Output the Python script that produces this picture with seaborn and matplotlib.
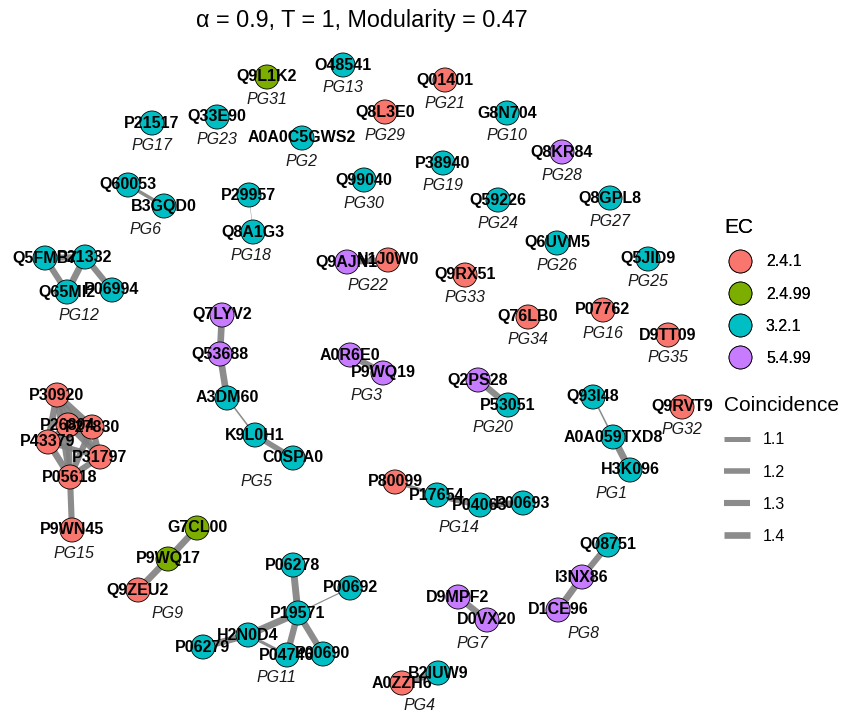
import matplotlib
matplotlib.use("Agg")
import matplotlib.pyplot as plt
from matplotlib.lines import Line2D
from matplotlib.collections import LineCollection
import numpy as np
import pandas as pd
import seaborn as sns

# nodos: id, grupo, EC, posicion del layout (x, y hacia abajo)
node_id = ["Q93I48", "A0A059TXD8", "H3K096", "A0A0C5GWS2", "A0R6E0", "P9WQ19", "A0ZZH6", "B2IUW9",
           "Q7LYV2", "Q53688", "A3DM60", "K9L0H1", "C0SPA0", "Q60053", "B3GQD0", "D9MPF2", "D0VX20",
           "Q08751", "I3NX86", "D1CE96", "G7CL00", "P9WQ17", "Q9ZEU2", "G8N704",
           "P06278", "P00692", "P19571", "H2N0D4", "P06279", "P04746", "P00690",
           "Q5FMB7", "P21332", "Q65MI2", "P06994", "O48541", "P80099", "P17654", "P04063", "P00693",
           "P30920", "P26804", "P27830", "P43379", "P31797", "P05618", "P9WN45",
           "P07762", "P21517", "P29957", "Q8A1G3", "P38940", "Q2PS28", "P53051", "Q01401",
           "Q9AJN1", "N1J0W0", "Q33E90", "Q59226", "Q5JID9", "Q6UVM5", "Q8GPL8", "Q8KR84",
           "Q8L3E0", "Q99040", "Q9L1K2", "Q9RVT9", "Q9RX51", "Q76LB0", "D9TT09"]
node_group = ["PG1", "PG1", "PG1", "PG2", "PG3", "PG3", "PG4", "PG4",
              "PG5", "PG5", "PG5", "PG5", "PG5", "PG6", "PG6", "PG7", "PG7",
              "PG8", "PG8", "PG8", "PG9", "PG9", "PG9", "PG10",
              "PG11", "PG11", "PG11", "PG11", "PG11", "PG11", "PG11",
              "PG12", "PG12", "PG12", "PG12", "PG13", "PG14", "PG14", "PG14", "PG14",
              "PG15", "PG15", "PG15", "PG15", "PG15", "PG15", "PG15",
              "PG16", "PG17", "PG18", "PG18", "PG19", "PG20", "PG20", "PG21",
              "PG22", "PG22", "PG23", "PG24", "PG25", "PG26", "PG27", "PG28",
              "PG29", "PG30", "PG31", "PG32", "PG33", "PG34", "PG35"]
node_ec = ["3.2.1", "3.2.1", "3.2.1", "3.2.1", "5.4.99", "5.4.99", "2.4.1", "3.2.1",
           "5.4.99", "5.4.99", "3.2.1", "3.2.1", "3.2.1", "3.2.1", "3.2.1", "5.4.99", "5.4.99",
           "3.2.1", "5.4.99", "5.4.99", "2.4.99", "2.4.99", "2.4.1", "3.2.1",
           "3.2.1", "3.2.1", "3.2.1", "3.2.1", "3.2.1", "3.2.1", "3.2.1",
           "3.2.1", "3.2.1", "3.2.1", "3.2.1", "3.2.1", "2.4.1", "3.2.1", "3.2.1", "3.2.1",
           "2.4.1", "2.4.1", "2.4.1", "2.4.1", "2.4.1", "2.4.1", "2.4.1",
           "2.4.1", "3.2.1", "3.2.1", "3.2.1", "3.2.1", "5.4.99", "3.2.1", "2.4.1",
           "5.4.99", "2.4.1", "3.2.1", "3.2.1", "3.2.1", "3.2.1", "3.2.1", "5.4.99",
           "2.4.1", "3.2.1", "2.4.99", "2.4.1", "2.4.1", "2.4.1", "2.4.1"]
node_x = [593, 613, 630, 302, 350, 383, 402, 438,
          222, 220, 227, 255, 293, 128, 164, 458, 487,
          608, 582, 558, 197, 168, 138, 507,
          293, 350, 298, 248, 203, 287, 323,
          45, 85, 67, 112, 343, 395, 437, 480, 523,
          57, 68, 92, 48, 100, 70, 72,
          603, 152, 249, 253, 443, 478, 508, 445,
          347, 388, 217, 498, 648, 557, 610, 562,
          385, 364, 267, 682, 465, 528, 668]
node_y = [397, 437, 470, 138, 355, 373, 683, 673,
          315, 354, 398, 435, 458, 185, 206, 597, 620,
          545, 577, 610, 528, 559, 590, 113,
          565, 588, 613, 635, 647, 655, 654,
          258, 257, 292, 290, 65, 482, 495, 505, 503,
          395, 425, 427, 442, 457, 477, 530,
          310, 123, 195, 232, 163, 380, 405, 80,
          262, 260, 117, 200, 259, 243, 198, 152,
          112, 180, 77, 407, 275, 317, 335]

# aristas: origen, destino, coincidencia
edge_from = ["Q93I48", "A0A059TXD8", "A0R6E0", "A0ZZH6", "Q7LYV2", "Q53688", "A3DM60", "K9L0H1",
             "Q60053", "D9MPF2", "Q08751", "I3NX86", "G7CL00", "P9WQ17",
             "P06278", "P19571", "P19571", "H2N0D4", "H2N0D4", "P19571", "P19571",
             "Q5FMB7", "Q5FMB7", "Q65MI2", "P21332", "P80099", "P17654", "P04063",
             "P30920", "P30920", "P30920", "P30920", "P30920", "P26804", "P26804", "P26804", "P26804",
             "P27830", "P27830", "P27830", "P43379", "P43379", "P31797", "P05618",
             "P29957", "Q2PS28", "Q9AJN1"]
edge_to = ["A0A059TXD8", "H3K096", "P9WQ19", "B2IUW9", "Q53688", "A3DM60", "K9L0H1", "C0SPA0",
           "B3GQD0", "D0VX20", "I3NX86", "D1CE96", "P9WQ17", "Q9ZEU2",
           "P19571", "P00692", "H2N0D4", "P06279", "P04746", "P04746", "P00690",
           "P21332", "Q65MI2", "P21332", "P06994", "P17654", "P04063", "P00693",
           "P26804", "P27830", "P43379", "P31797", "P05618", "P27830", "P43379", "P31797", "P05618",
           "P43379", "P31797", "P05618", "P31797", "P05618", "P05618", "P9WN45",
           "Q8A1G3", "P53051", "N1J0W0"]
edge_coincidence = [1.01, 1.45, 1.35, 1.3, 1.4, 1.4, 1.01, 1.2,
                    1.06, 1.35, 1.3, 1.4, 1.4, 1.4,
                    1.45, 1.0, 1.45, 1.4, 1.05, 1.35, 1.35,
                    1.3, 1.3, 1.4, 1.3, 1.06, 1.4, 1.3,
                    1.3, 1.4, 1.4, 1.2, 1.4, 1.3, 1.3, 1.2, 1.3,
                    1.2, 1.3, 1.3, 1.2, 1.4, 1.3, 1.3,
                    0.98, 1.35, 1.3]

ec_levels = ["2.4.1", "2.4.99", "3.2.1", "5.4.99"]
ec_colors = ["#F8766D", "#7CAE00", "#00BFC4", "#C77CFF"]
coincidence_breaks = [1.1, 1.2, 1.3, 1.4]


def edge_width(w):
    return float(np.interp(w, [0.98, 1.1, 1.5], [0.3, 3.6, 5.2]))


nodes = pd.DataFrame({"id": node_id, "grupo": node_group, "EC": node_ec, "x": node_x, "y": node_y})
edges = pd.DataFrame({"from": edge_from, "to": edge_to, "Coincidence": edge_coincidence})
pos = nodes.set_index("id")[["x", "y"]]

fig = plt.figure(figsize=(8.43, 7.13), dpi=100)
ax = fig.add_axes([0, 0, 1, 1])
plt.rcParams["font.family"] = ["Liberation Sans", "DejaVu Sans"]

segs = [[tuple(pos.loc[a]), tuple(pos.loc[b])] for a, b in zip(edges["from"], edges["to"])]
lc = LineCollection(segs, colors="#808080", linewidths=[edge_width(w) for w in edges["Coincidence"]],
                    alpha=0.9, capstyle="butt", zorder=1)
ax.add_collection(lc)

sns.scatterplot(data=nodes, x="x", y="y", hue="EC", hue_order=ec_levels, palette=ec_colors,
                s=300, edgecolor="black", linewidth=0.6, legend=False, ax=ax, zorder=2)

for _, r in nodes.iterrows():
    ax.text(r["x"], r["y"], r["id"], ha="center", va="center", fontsize=11.5,
            fontweight="bold", color="black", zorder=3)

# etiqueta de grupo: centro del rango x, debajo del nodo mas bajo
grupos = nodes.groupby("grupo").agg(xmin=("x", "min"), xmax=("x", "max"), ymax=("y", "max")).reset_index()
for _, g in grupos.iterrows():
    ax.text((g["xmin"] + g["xmax"]) / 2, g["ymax"] + 23, g["grupo"], ha="center", va="center",
            fontsize=11.5, fontstyle="italic", color="#1a1a1a", zorder=3)

ax.set_xlim(0, 843)
ax.set_ylim(713, 0)
ax.axis("off")

ax.text(362, 20, "α = 0.9, T = 1, Modularity = 0.47", ha="center", va="center", fontsize=16.8)

h_ec = [Line2D([], [], marker="o", ls="", markersize=16.5, markerfacecolor=c, markeredgecolor="black",
               markeredgewidth=0.6) for c in ec_colors]
leg1 = fig.legend(h_ec, ec_levels, title="EC", loc="upper left", bbox_to_anchor=(718 / 843, 1 - 212 / 713),
                  frameon=False, fontsize=11.5, title_fontsize=15, labelspacing=1.07, handletextpad=0.6,
                  alignment="left", borderaxespad=0)
fig.add_artist(leg1)

h_co = [Line2D([], [], color="#808080", lw=edge_width(w), alpha=0.9, solid_capstyle="butt")
        for w in coincidence_breaks]
fig.legend(h_co, [str(w) for w in coincidence_breaks], title="Coincidence", loc="upper left",
           bbox_to_anchor=(718 / 843, 1 - 390 / 713), frameon=False, fontsize=11.5, title_fontsize=15,
           labelspacing=1.07, handlelength=1.6, handletextpad=0.8, alignment="left", borderaxespad=0)

plt.savefig("out.png", dpi=100)
plt.close()
